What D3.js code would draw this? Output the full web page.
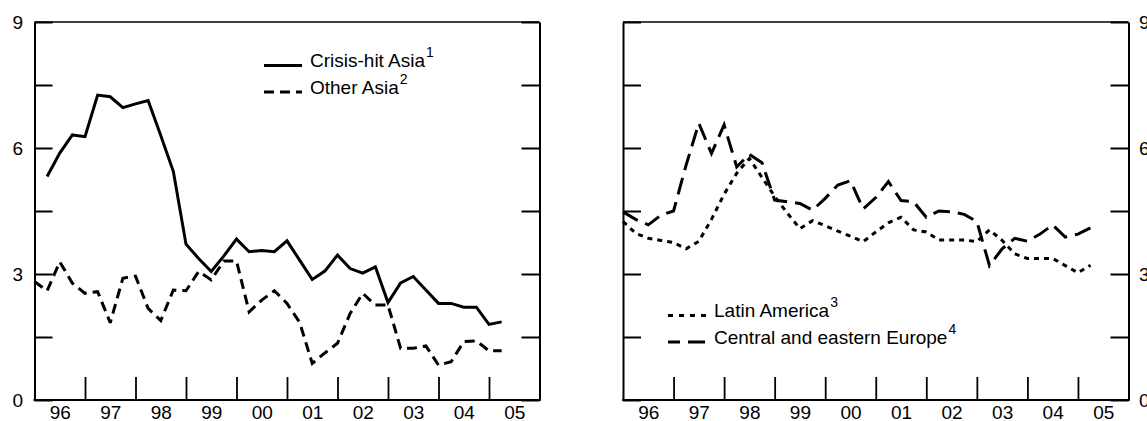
<!DOCTYPE html>
<html>
<head>
<meta charset="utf-8">
<script src="https://cdn.jsdelivr.net/npm/d3@7"></script>
<style>
  html, body { margin: 0; padding: 0; background: #fff; }
  svg { display: block; }
</style>
</head>
<body>
<svg id="chart" width="1147" height="421"></svg>
<script>
// Quarterly observations, each plotted at the end of its quarter.
const quarters = [
  "1995Q4",
  "1996Q1","1996Q2","1996Q3","1996Q4",
  "1997Q1","1997Q2","1997Q3","1997Q4",
  "1998Q1","1998Q2","1998Q3","1998Q4",
  "1999Q1","1999Q2","1999Q3","1999Q4",
  "2000Q1","2000Q2","2000Q3","2000Q4",
  "2001Q1","2001Q2","2001Q3","2001Q4",
  "2002Q1","2002Q2","2002Q3","2002Q4",
  "2003Q1","2003Q2","2003Q3","2003Q4",
  "2004Q1","2004Q2","2004Q3","2004Q4",
  "2005Q1"
];

const crisisAsia = [
  null,
  5.32, 5.88, 6.31, 6.27,
  7.26, 7.22, 6.96, 7.05,
  7.13, 6.30, 5.44, 3.71,
  3.37, 3.06, 3.43, 3.83,
  3.53, 3.56, 3.53, 3.79,
  3.33, 2.87, 3.07, 3.45,
  3.13, 3.02, 3.17, 2.32,
  2.79, 2.94, 2.62, 2.30,
  2.30, 2.21, 2.21, 1.80,
  1.86
];

const otherAsia = [
  2.82,
  2.60, 3.29, 2.78, 2.54,
  2.58, 1.84, 2.90, 2.95,
  2.18, 1.89, 2.62, 2.60,
  3.06, 2.86, 3.31, 3.31,
  2.10, 2.38, 2.60, 2.30,
  1.85, 0.87, 1.12, 1.35,
  2.06, 2.54, 2.26, 2.26,
  1.23, 1.23, 1.29, 0.83,
  0.91, 1.39, 1.41, 1.17,
  1.17
];

const latinAmerica = [
  4.25,
  3.97, 3.85, 3.80, 3.75,
  3.60, 3.78, 4.30, 4.90,
  5.40, 5.75, 5.30, 4.85,
  4.45, 4.08, 4.27, 4.15,
  4.02, 3.90, 3.77, 4.00,
  4.22, 4.35, 4.05, 4.00,
  3.81, 3.81, 3.81, 3.77,
  4.05, 3.80, 3.48, 3.37,
  3.37, 3.37, 3.20, 3.03,
  3.21
];

const ceEurope = [
  4.48,
  4.30, 4.17, 4.40, 4.50,
  5.60, 6.59, 5.87, 6.55,
  5.55, 5.85, 5.65, 4.76,
  4.72, 4.68, 4.52, 4.80,
  5.12, 5.22, 4.55, 4.82,
  5.20, 4.75, 4.72, 4.35,
  4.50, 4.48, 4.42, 4.25,
  3.20, 3.60, 3.85, 3.78,
  3.95, 4.17, 3.88, 3.95,
  4.10
];

const yearTicks = [1997, 1998, 1999, 2000, 2001, 2002, 2003, 2004, 2005];
const yearLabels = ["96", "97", "98", "99", "00", "01", "02", "03", "04", "05"];
const yTicks = [0, 1.5, 3, 4.5, 6, 7.5, 9];
const yLabelled = [0, 3, 6, 9];

const FONT = "'Liberation Sans', Arial, sans-serif";
const svg = d3.select("#chart");
svg.append("rect").attr("width", 1147).attr("height", 421).attr("fill", "#fff");

const quarterTime = q => +q.slice(0, 4) + (+q.slice(5)) / 4;
const times = quarters.map(quarterTime);

const y = d3.scaleLinear().domain([0, 9]).range([400, 22]);

function drawPanel(x0, x1, labelSide, series, legend) {
  const x = d3.scaleLinear().domain([1996, 2006]).range([x0, x1]);
  const g = svg.append("g");

  // frame
  g.append("line").attr("x1", x0).attr("x2", x1).attr("y1", y(9)).attr("y2", y(9))
    .attr("stroke", "#000").attr("stroke-width", 1.3);
  g.append("line").attr("x1", x0 - 1).attr("x2", x1 + 1).attr("y1", y(0)).attr("y2", y(0))
    .attr("stroke", "#000").attr("stroke-width", 2);

  // vertical axes with inward ticks
  const fmt = d => yLabelled.includes(d) ? d3.format("d")(d) : "";
  const leftAxis = d3.axisLeft(y).tickValues(yTicks).tickSize(-18).tickSizeOuter(0)
    .tickPadding(11.5).tickFormat(labelSide === "left" ? fmt : () => "");
  const rightAxis = d3.axisRight(y).tickValues(yTicks).tickSize(-18).tickSizeOuter(0)
    .tickPadding(10.5).tickFormat(labelSide === "right" ? fmt : () => "");

  [[leftAxis, x0], [rightAxis, x1]].forEach(([ax, px]) => {
    const a = g.append("g").attr("transform", `translate(${px},0)`).call(ax);
    a.select(".domain").attr("stroke-width", 2);
    a.selectAll(".tick line").attr("stroke-width", 2);
    a.selectAll("text").attr("font-family", FONT).attr("font-size", 19)
      .attr("fill", "#000").attr("dy", "0.36em");
  });

  // year boundary ticks
  const xt = g.append("g").attr("transform", `translate(0,${y(0)})`)
    .call(d3.axisBottom(x).tickValues(yearTicks).tickSize(-23).tickSizeOuter(0).tickFormat(() => ""));
  xt.select(".domain").remove();
  xt.selectAll(".tick line").attr("stroke-width", 1.8);

  // year labels centred in each year
  const xl = g.append("g").attr("transform", `translate(0,${y(0)})`)
    .call(d3.axisBottom(x).tickValues(yearLabels.map((d, i) => 1996.5 + i))
      .tickSize(0).tickPadding(6).tickFormat((d, i) => yearLabels[i]));
  xl.select(".domain").remove();
  xl.selectAll("text").attr("font-family", FONT).attr("font-size", 19).attr("fill", "#000");

  // series
  const line = d3.line()
    .defined(d => d.v != null)
    .x(d => x(d.t))
    .y(d => y(d.v));
  series.forEach(s => {
    const pts = s.values.map((v, i) => ({ t: times[i], v }));
    g.append("path").datum(pts)
      .attr("d", line)
      .attr("fill", "none")
      .attr("stroke", "#000")
      .attr("stroke-width", 3)
      .attr("stroke-linejoin", "miter")
      .attr("stroke-miterlimit", 3)
      .attr("stroke-dasharray", s.dash || null);
  });

  // legend
  legend.items.forEach((it, i) => {
    const by = legend.y + i * legend.step;
    g.append("line")
      .attr("x1", legend.x).attr("x2", legend.x + 38)
      .attr("y1", by - 1.5).attr("y2", by - 1.5)
      .attr("stroke", "#000").attr("stroke-width", 3)
      .attr("stroke-dasharray", it.dash || null)
      .attr("stroke-dashoffset", it.offset || 0);
    const t = g.append("text")
      .attr("x", legend.x + 46).attr("y", by)
      .attr("font-family", FONT).attr("font-size", 19).attr("fill", "#000");
    t.append("tspan").text(it.label);
    t.append("tspan").attr("font-size", 14).attr("dx", 1).attr("dy", -10).text(it.note);
  });
}

drawPanel(34.5, 539.5, "left",
  [
    { values: crisisAsia },
    { values: otherAsia, dash: "10,6" }
  ],
  {
    x: 264, y: 67, step: 26.5,
    items: [
      { label: "Crisis-hit Asia", note: "1" },
      { label: "Other Asia", note: "2", dash: "10,6" }
    ]
  });

drawPanel(623, 1128.5, "right",
  [
    { values: latinAmerica, dash: "5,5" },
    { values: ceEurope, dash: "17,8" }
  ],
  {
    x: 668, y: 317, step: 26.5,
    items: [
      { label: "Latin America", note: "3", dash: "5,6" },
      { label: "Central and eastern Europe", note: "4", dash: "17,8", offset: 5 }
    ]
  });
</script>
</body>
</html>
